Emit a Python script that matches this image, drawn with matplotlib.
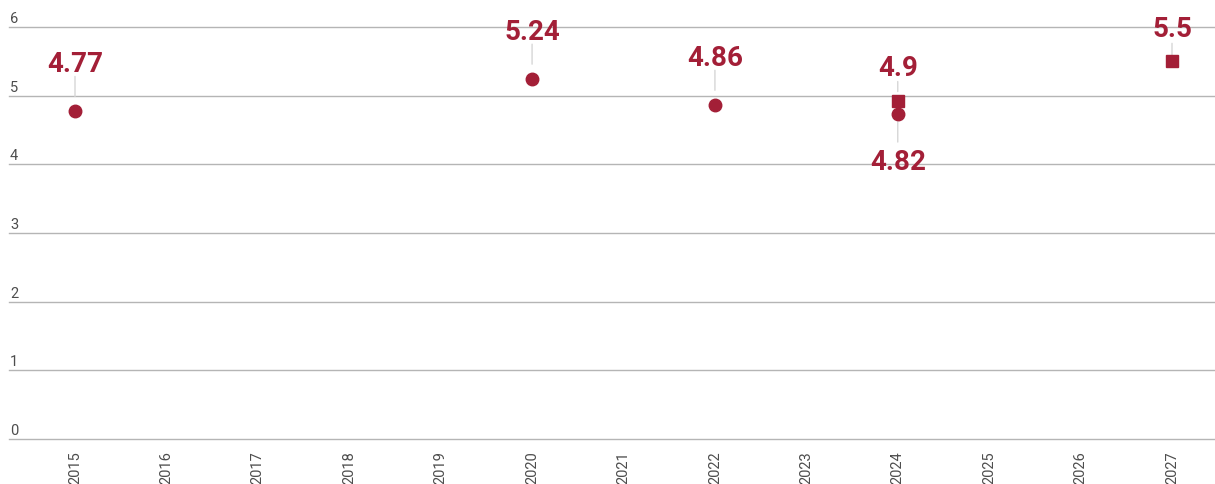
import matplotlib
matplotlib.use("Agg")
import matplotlib.pyplot as plt
import matplotlib.transforms as mtransforms

plt.rcParams['font.family'] = ['Roboto', 'DejaVu Sans']

years = list(range(2015, 2028))
circle_years = [2015, 2020, 2022, 2024]
circle_vals = [4.77, 5.24, 4.86, 4.82]
square_years = [2024, 2027]
square_vals = [4.9, 5.5]
y_ticks = [0, 1, 2, 3, 4, 5, 6]

red = '#A31F37'
grey_txt = '#4d4d4d'
grid_c = '#b5b5b5'
lead_c = '#d6d6d6'

fig = plt.figure(figsize=(12.15, 4.85), dpi=100)
W, H = 1215, 485
ax = fig.add_axes([9 / W, 45 / H, 1 - 9 / W, (440 - 28) / H])
ax.set_xlim(2015 - 66 / 91.43, 2027 + 43 / 91.43)
ax.set_ylim(0, 6)
for s in ax.spines.values():
    s.set_visible(False)

for v in y_ticks:
    ax.axhline(v, color=grid_c, lw=1.0, zorder=0, clip_on=False)
    tr = mtransforms.offset_copy(
        mtransforms.blended_transform_factory(ax.transAxes, ax.transData),
        fig=fig, x=1, y=5, units='dots')
    ax.text(0, v, str(v), transform=tr, ha='left', va='baseline',
            fontsize=10.5, color=grey_txt)
ax.set_yticks([])

ax.set_xticks(years)
ax.set_xticklabels([str(y) for y in years], rotation=90, fontsize=10.5,
                   color=grey_txt, va='top', ha='center')
ax.tick_params(axis='x', length=0, pad=8)


def point(x, v, marker, nudge, text_off, line0, line1):
    tr = mtransforms.offset_copy(ax.transData, fig=fig, x=0, y=nudge, units='dots')
    ax.plot([x], [v], marker=marker, ms=9 if marker == 'o' else 8.5,
            color=red, ls='none', transform=tr, zorder=3, clip_on=False)
    ltr = mtransforms.offset_copy(ax.transData, fig=fig, x=0, y=nudge + line0, units='dots')
    ax.annotate('', xy=(x, v), xycoords=ltr, xytext=(0, line1 - line0),
                textcoords='offset pixels',
                arrowprops=dict(arrowstyle='-', color=lead_c, lw=1,
                                shrinkA=0, shrinkB=0), zorder=2)
    ax.annotate(str(v), xy=(x, v), xycoords=tr, xytext=(0, text_off),
                textcoords='offset pixels', ha='center', va='baseline',
                fontsize=20, fontweight='bold', color=red,
                annotation_clip=False, zorder=4)


for x, v in zip(circle_years, circle_vals):
    if x == 2024:
        point(x, v, 'o', -6, -55, -8, -28)
    else:
        point(x, v, 'o', 0, 40, 15, 35)

for x, v in zip(square_years, square_vals):
    if x == 2024:
        point(x, v, 's', 2, 26, 9, 19)
    else:
        point(x, v, 's', 0, 25, 6, 18)

fig.savefig('out.png', dpi=100)
